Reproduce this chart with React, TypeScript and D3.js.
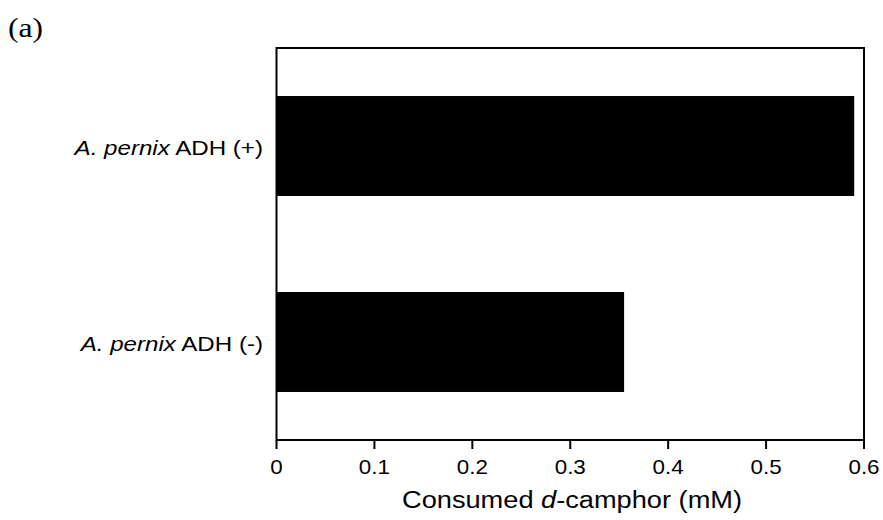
import React from "react";
import * as d3 from "d3";

const categories = ["A. pernix ADH (+)", "A. pernix ADH (-)"];
const italicParts = ["A. pernix", "A. pernix"];
const restParts = [" ADH (+)", " ADH (-)"];
const values = [0.59, 0.355];
const xTicks = [0, 0.1, 0.2, 0.3, 0.4, 0.5, 0.6];
const xTickLabels = ["0", "0.1", "0.2", "0.3", "0.4", "0.5", "0.6"];

export default function App() {
  const W = 883, H = 520;
  const left = 276.5, right = 864, top = 48, bottom = 440;
  const x = d3.scaleLinear().domain([0, 0.6]).range([left, right]);
  const y = d3.scaleBand().domain(categories).range([top, bottom]).paddingInner(0.49).paddingOuter(0.245);
  const font = "Arial, 'Liberation Sans', sans-serif";
  const sx = 1.13;
  return (
    <svg width={W} height={H} style={{ position: "absolute", left: 0, top: 0, background: "#fff" }}>
      <g transform={`translate(8,37) scale(${sx},1)`}>
        <text x={0} y={0} fontFamily="'Times New Roman', 'Liberation Serif', serif" fontSize={28}>(a)</text>
      </g>
      {categories.map((c, i) => (
        <rect key={c} x={x(0)} y={y(c)!} width={x(values[i]) - x(0)} height={y.bandwidth()} fill="#000" />
      ))}
      <rect x={left} y={top} width={right - left} height={bottom - top} fill="none" stroke="#000" strokeWidth={2} />
      {xTicks.map((t, i) => (
        <g key={t}>
          <line x1={x(t)} x2={x(t)} y1={bottom} y2={bottom + 9} stroke="#000" strokeWidth={2} />
          <g transform={`translate(${x(t)},474) scale(1.12,1)`}>
            <text x={0} y={0} textAnchor="middle" fontFamily={font} fontSize={20}>{xTickLabels[i]}</text>
          </g>
        </g>
      ))}
      {categories.map((c, i) => (
        <g key={c} transform={`translate(263,${y(c)! + y.bandwidth() / 2 + 9}) scale(1.15,1)`}>
          <text x={0} y={0} textAnchor="end" fontFamily={font} fontSize={21}>
            <tspan fontStyle="italic">{italicParts[i]}</tspan>
            <tspan>{restParts[i]}</tspan>
          </text>
        </g>
      ))}
      <g transform={`translate(572,508) scale(1.11,1)`}>
        <text x={0} y={0} textAnchor="middle" fontFamily={font} fontSize={24.5}>
          Consumed <tspan fontStyle="italic">d</tspan>-camphor (mM)
        </text>
      </g>
    </svg>
  );
}
